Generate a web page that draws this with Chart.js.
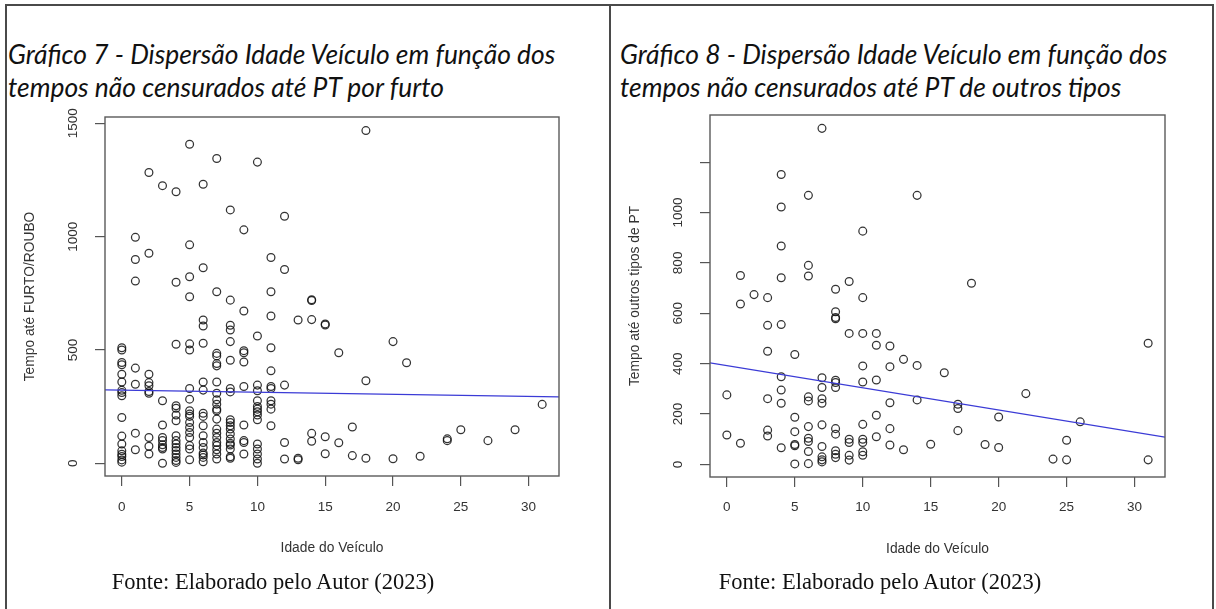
<!DOCTYPE html>
<html><head><meta charset="utf-8">
<script src="https://cdn.jsdelivr.net/npm/chart.js@4/dist/chart.umd.min.js"></script>
<style>
html,body{margin:0;padding:0;background:#fff;}
body{width:1216px;height:609px;position:relative;overflow:hidden;}
.bl{position:absolute;background:#4a4a4a;}
.title{position:absolute;font-family:Lato;font-style:italic;font-size:26.4px;color:#111;line-height:33px;white-space:nowrap;}
.fonte{position:absolute;font-family:"Liberation Serif";font-size:22.5px;line-height:22.5px;color:#111;white-space:nowrap;transform:translateX(-50%);}
canvas{position:absolute;top:0;}
</style></head>
<body>
<div class="bl" style="left:5px;top:4px;width:1209px;height:2px"></div>
<div class="bl" style="left:5px;top:4px;width:2px;height:605px"></div>
<div class="bl" style="left:609px;top:4px;width:2px;height:605px"></div>
<div class="bl" style="left:1212px;top:4px;width:2px;height:605px"></div>

<div class="title" style="left:8px;top:38px">Gráfico 7 - Dispersão Idade Veículo em função dos<br>tempos não censurados até PT por furto</div>
<div class="title" style="left:620px;top:38px">Gráfico 8 - Dispersão Idade Veículo em função dos<br>tempos não censurados até PT de outros tipos</div>

<canvas id="c1" width="608" height="609" style="left:0"></canvas>
<canvas id="c2" width="608" height="609" style="left:608px"></canvas>

<div class="fonte" style="left:273px;top:571px">Fonte: Elaborado pelo Autor (2023)</div>
<div class="fonte" style="left:880px;top:571px">Fonte: Elaborado pelo Autor (2023)</div>

<script>
// ---------- DATA ----------
const xTicks = [0, 5, 10, 15, 20, 25, 30];
const xTickLabels = ['0', '5', '10', '15', '20', '25', '30'];
const xAxisTitle = 'Idade do Veículo';

// Gráfico 7: [idade, tempo até FURTO/ROUBO]
const furtoPontos = [
  [0,510],[0,500],[0,445],[0,435],[0,393],[0,359],[0,322],[0,312],[0,298],[0,202],[0,120],[0,85],[0,55],[0,40],[0,30],[0,15],[0,5],
  [1,997],[1,899],[1,804],[1,420],[1,349],[1,133],[1,60],
  [2,1283],[2,927],[2,393],[2,356],[2,342],[2,317],[2,309],[2,114],[2,75],[2,41],
  [3,1225],[3,276],[3,169],[3,114],[3,100],[3,82],[3,70],[3,63],[3,0],
  [4,1198],[4,799],[4,525],[4,254],[4,243],[4,213],[4,188],[4,122],[4,100],[4,85],[4,70],[4,56],[4,41],[4,26],[4,12],[4,4],
  [5,1408],[5,964],[5,823],[5,735],[5,527],[5,500],[5,330],[5,283],[5,232],[5,217],[5,207],[5,180],[5,158],[5,136],[5,114],[5,78],[5,63],[5,16],
  [6,1231],[6,863],[6,632],[6,606],[6,530],[6,359],[6,323],[6,221],[6,207],[6,166],[6,122],[6,92],[6,70],[6,45],[6,37],[6,26],[6,7],
  [7,1345],[7,757],[7,485],[7,474],[7,440],[7,430],[7,359],[7,309],[7,280],[7,261],[7,239],[7,232],[7,195],[7,151],[7,133],[7,114],[7,92],[7,78],[7,60],[7,41],[7,19],
  [8,1118],[8,720],[8,609],[8,588],[8,537],[8,455],[8,330],[8,315],[8,192],[8,180],[8,166],[8,151],[8,129],[8,107],[8,88],[8,81],[8,63],[8,29],[8,22],
  [9,1030],[9,672],[9,497],[9,488],[9,447],[9,339],[9,169],[9,100],[9,92],[9,41],
  [10,1329],[10,562],[10,345],[10,320],[10,276],[10,251],[10,239],[10,227],[10,213],[10,192],[10,85],[10,63],[10,41],[10,19],[10,0],
  [11,908],[11,757],[11,650],[11,510],[11,408],[11,339],[11,330],[11,276],[11,261],[11,239],[11,166],
  [12,1090],[12,855],[12,345],[12,92],[12,19],
  [13,632],[13,22],[13,16],
  [14,722],[14,718],[14,634],[14,132],[14,97],
  [15,615],[15,610],[15,117],[15,42],
  [16,488],[16,91],
  [17,160],[17,34],
  [18,1468],[18,364],[18,22],
  [20,537],[20,20],
  [21,444],[22,31],[24,108],[24,100],[25,148],[27,100],[29,148],[31,260]
];
const furtoYTicks = [0, 500, 1000, 1500];
const furtoYLabels = ['0', '500', '1000', '1500'];
const furtoYTitle = 'Tempo até FURTO/ROUBO';
const furtoRegressao = [323, -0.93];   // intercepto, inclinação

// Gráfico 8: [idade, tempo até outros tipos de PT]
const outrosPontos = [
  [0,276],[0,117],
  [1,750],[1,637],[1,84],
  [2,674],
  [3,662],[3,552],[3,449],[3,261],[3,136],[3,113],
  [4,1151],[4,1022],[4,867],[4,741],[4,555],[4,348],[4,295],[4,243],[4,66],
  [5,436],[5,187],[5,130],[5,79],[5,74],[5,2],
  [6,1068],[6,790],[6,748],[6,268],[6,252],[6,150],[6,104],[6,91],[6,51],[6,3],
  [7,1334],[7,344],[7,305],[7,261],[7,243],[7,157],[7,71],[7,30],[7,18],[7,10],
  [8,695],[8,606],[8,583],[8,578],[8,334],[8,325],[8,305],[8,142],[8,120],[8,54],[8,40],[8,27],
  [9,726],[9,520],[9,100],[9,87],[9,36],[9,17],
  [10,926],[10,662],[10,520],[10,391],[10,327],[10,159],[10,100],[10,87],[10,50],[10,36],
  [11,520],[11,473],[11,335],[11,195],[11,110],
  [12,470],[12,388],[12,245],[12,142],[12,77],
  [13,417],[13,58],
  [14,1068],[14,393],[14,256],
  [15,80],[16,364],
  [17,239],[17,222],[17,134],
  [18,719],[19,79],
  [20,188],[20,67],
  [22,281],[24,21],[25,96],[25,18],[26,169],
  [31,481],[31,18]
];
const outrosYTicks = [0, 200, 400, 600, 800, 1000, 1200];
const outrosYLabels = ['0', '200', '400', '600', '800', '1000', ''];
const outrosYTitle = 'Tempo até outros tipos de PT';
const outrosRegressao = [392, -8.8];

// ---------- RENDER ----------
const FONT = 'Liberation Sans';
const TXT = '#333';

const rBox = {
  id: 'rBox',
  afterDraw(chart, args, opts) {
    const ctx = chart.ctx, a = chart.chartArea, ys = chart.scales.y;
    ctx.save();
    ctx.strokeStyle = '#5a5a5a';
    ctx.lineWidth = 1.4;
    ctx.strokeRect(a.left, a.top, a.right - a.left, a.bottom - a.top);
    ctx.fillStyle = TXT;
    ctx.font = '13.5px "' + FONT + '"';
    ctx.textAlign = 'center';
    ctx.textBaseline = 'middle';
    ys.ticks.forEach((t, i) => {
      const lab = opts.labels[i];
      if (!lab) return;
      ctx.save();
      ctx.translate(a.left - 31.5, ys.getPixelForValue(t.value));
      ctx.rotate(-Math.PI / 2);
      ctx.fillText(lab, 0, 0);
      ctx.restore();
    });
    ctx.restore();
  }
};

function makeChart(id, pontos, reg, yTicks, yLabels, yTitle, yMin, yMax, pad, labPad) {
  const xMin = -1.24, xMax = 32.24;
  new Chart(document.getElementById(id), {
    type: 'scatter',
    data: {
      datasets: [
        {
          data: [{x: xMin, y: reg[0] + reg[1] * xMin}, {x: xMax, y: reg[0] + reg[1] * xMax}],
          showLine: true, borderColor: '#3b3bd6', borderWidth: 1.1,
          pointRadius: 0, fill: false
        },
        {
          data: pontos.map(p => ({x: p[0], y: p[1]})),
          pointStyle: 'circle', pointRadius: 3.9,
          borderColor: 'rgba(15,15,15,0.85)', backgroundColor: 'rgba(0,0,0,0)',
          borderWidth: 1.25
        }
      ]
    },
    options: {
      responsive: false, animation: false, devicePixelRatio: 1,
      layout: {padding: pad},
      plugins: {legend: {display: false}, tooltip: {enabled: false}, rBox: {labels: yLabels}},
      scales: {
        x: {
          type: 'linear', min: xMin, max: xMax,
          afterBuildTicks: s => { s.ticks = xTicks.map(v => ({value: v})); },
          afterFit: s => { s.height = 80; },
          grid: {display: true, drawOnChartArea: false, drawTicks: true, tickLength: 10, color: '#555', lineWidth: 1.2},
          border: {display: false},
          ticks: {autoSkip: false, maxRotation: 0, minRotation: 0, padding: labPad, color: TXT,
                  font: {family: FONT, size: 13.5},
                  callback: (v, i) => xTickLabels[i]},
          title: {display: true, text: xAxisTitle, color: TXT, padding: {top: 0, bottom: 0},
                  font: {family: FONT, size: 13.8}}
        },
        y: {
          type: 'linear', min: yMin, max: yMax,
          afterBuildTicks: s => { s.ticks = yTicks.map(v => ({value: v})); },
          afterFit: s => { s.width = 83; },
          grid: {display: true, drawOnChartArea: false, drawTicks: true, tickLength: 10, color: '#555', lineWidth: 1.2},
          border: {display: false},
          ticks: {display: false},
          title: {display: true, text: yTitle, color: TXT, padding: {top: 0, bottom: 0},
                  font: {family: FONT, size: 13.8}}
        }
      }
    },
    plugins: [rBox]
  });
}

makeChart('c1', furtoPontos, furtoRegressao, furtoYTicks, furtoYLabels, furtoYTitle,
  -56, 1528, {left: 22, top: 117, right: 49, bottom: 53}, 13);
makeChart('c2', outrosPontos, outrosRegressao, outrosYTicks, outrosYLabels, outrosYTitle,
  -50, 1387, {left: 19, top: 115, right: 51, bottom: 52}, 12);
</script>
</body></html>
